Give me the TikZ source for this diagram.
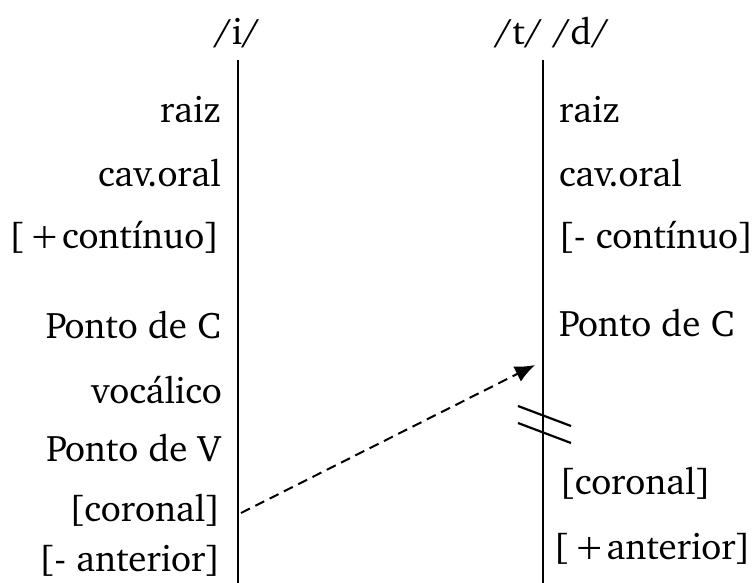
\documentclass[tikz,border=0pt]{standalone}
\usepackage[T1]{fontenc}
\usepackage{charter}
\usepackage{tikz}
\usetikzlibrary{arrows.meta,positioning}

\begin{document}
\begin{tikzpicture}[x=1pt,y=-1pt,
  feat/.style={inner sep=0pt,font=\fontsize{37}{44}\selectfont},
  tier/.style={line width=2.6pt},
  arrow/.style={-{Latex[length=20pt,width=17pt]},line width=2pt,dash pattern=on 10pt off 6pt},
  cut/.style={line width=2.2pt}
]
\useasboundingbox (0,0) rectangle (755,583);
% segment headers
\node[feat,anchor=base] (i) at (237,45) {/i/};
\node[feat,anchor=base] (td) at (552,45) {/t/ /d/};
% tiers
\coordinate (itop) at (238,60);
\coordinate (ibot) at (238,583);
\coordinate (ttop) at (543,60);
\coordinate (tbot) at (543,583);
\draw[tier] (itop) -- (ibot);
\draw[tier] (ttop) -- (tbot);
% left features
\node[feat,anchor=base east] (iraiz) at (221,123) {raiz};
\node[feat,anchor=base east] (ioral) at (221,186) {cav.oral};
\node[feat,anchor=base east] (icont) at (220,248) {[\kern5pt+\kern2pt cont\'{\i}nuo]};
\node[feat,anchor=base east] (ipc) at (221,338) {Ponto de C};
\node[feat,anchor=base east] (ivoc) at (222,403) {voc\'alico};
\node[feat,anchor=base east] (ipv) at (221,461) {Ponto de V};
\node[feat,anchor=base east] (icor) at (221,521) {[coronal]};
\node[feat,anchor=base east] (iant) at (221,571) {[- anterior]};
% right features
\node[feat,anchor=base west] (traiz) at (559,123) {raiz};
\node[feat,anchor=base west] (toral) at (559,186) {cav.oral};
\node[feat,anchor=base west] (tcont) at (558,248) {[- cont\'{\i}nuo]};
\node[feat,anchor=base west] (tpc) at (559,336) {Ponto de C};
\node[feat,anchor=base west] (tcor) at (559,494) {[coronal]};
\node[feat,anchor=base west] (tant) at (553,559) {[\kern5pt+\kern2pt anterior]};
% spreading and delinking
\coordinate (from) at (241,513);
\coordinate (to) at (535,365);
\draw[arrow] (from) -- (to);
\coordinate (cut1a) at (518,406);
\coordinate (cut1b) at (571,426);
\coordinate (cut2a) at (518,423);
\coordinate (cut2b) at (571,443);
\draw[cut] (cut1a) -- (cut1b);
\draw[cut] (cut2a) -- (cut2b);
\end{tikzpicture}
\end{document}
